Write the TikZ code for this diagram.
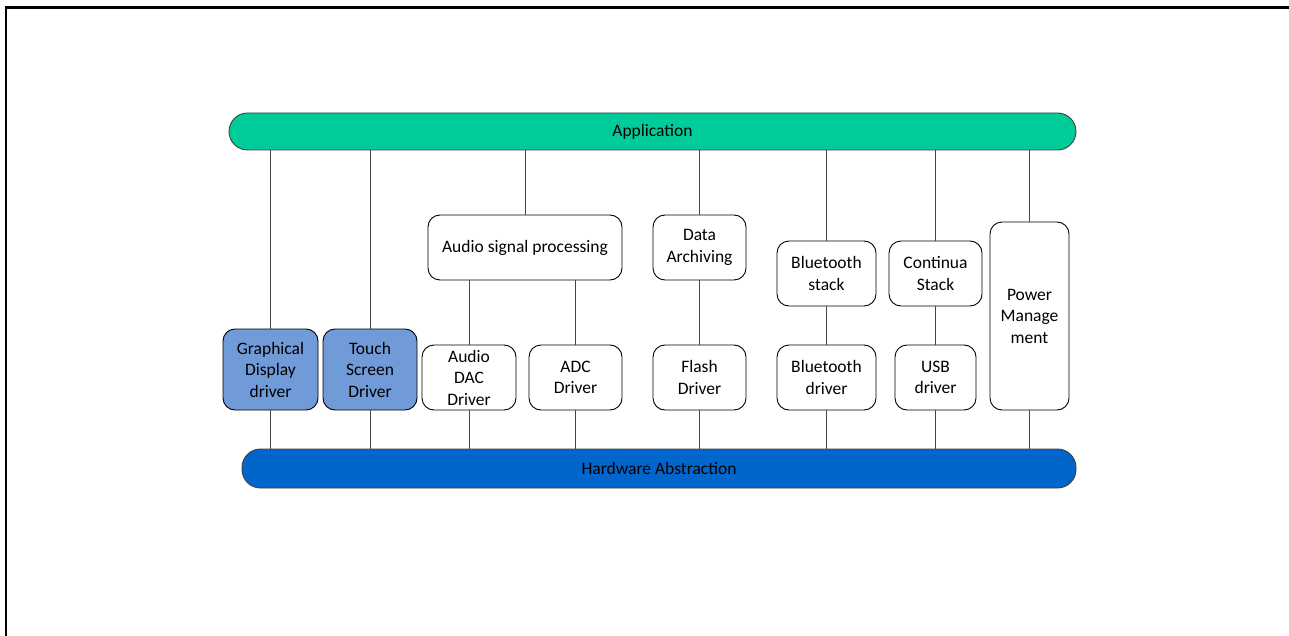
\documentclass[tikz,border=0pt]{standalone}
\usepackage{fontspec}
\setmainfont{Carlito}
\definecolor{appgreen}{RGB}{0,204,153}
\definecolor{hwblue}{RGB}{0,102,204}
\definecolor{drvblue}{RGB}{112,155,216}
\definecolor{linkgray}{RGB}{70,70,70}
\begin{document}
\begin{tikzpicture}[x=1pt,y=-1pt,
  every node/.style={font=\fontsize{17.5}{21.5}\selectfont, inner sep=0pt, align=center},
  bar/.style={draw=black!75, line width=0.9pt, rounded corners=18.5pt, minimum height=37pt},
  blk/.style={draw=black, line width=0.9pt, rounded corners=12pt, fill=white},
  drv/.style={blk, fill=drvblue},
  link/.style={draw=linkgray, line width=1pt}]
\useasboundingbox (0,0) rectangle (1289,636);
% page frame (top and left edges)
\draw[line width=2.2pt] (6,637) -- (6,7.5) -- (1290,7.5);

% layer bars
\node[bar, fill=appgreen, minimum width=847pt] (app) at (652.5,131.5) {Application};
\node[bar, fill=hwblue, minimum width=834pt, minimum height=39pt] (hw) at (659,468.5) {Hardware Abstraction};

% driver and service blocks
\node[drv, minimum width=95pt, minimum height=81pt] (gd) at (270.5,369.5) {Graphical\\Display\\driver};
\node[drv, minimum width=94pt, minimum height=81pt] (ts) at (370,369.5) {Touch\\Screen\\Driver};
\node[blk, minimum width=94pt, minimum height=65pt] (dac) at (469,377.5) {Audio\\DAC\\Driver};
\node[blk, minimum width=93pt, minimum height=65pt] (adc) at (575.5,377.5) {ADC\\Driver};
\node[blk, minimum width=194pt, minimum height=65pt] (asp) at (525,247.5) {Audio signal processing};
\node[blk, minimum width=93pt, minimum height=65pt] (arch) at (699.5,247.5) {Data\\Archiving};
\node[blk, minimum width=93pt, minimum height=65pt] (flash) at (699.5,377.5) {Flash\\Driver};
\node[blk, minimum width=99pt, minimum height=65pt] (bts) at (826.5,273.5) {Bluetooth\\stack};
\node[blk, minimum width=99pt, minimum height=65pt] (btd) at (826.5,377.5) {Bluetooth\\driver};
\node[blk, minimum width=93pt, minimum height=65pt] (cont) at (935.5,273.5) {Continua\\Stack};
\node[blk, minimum width=81pt, minimum height=65pt] (usb) at (935.5,377.5) {USB\\driver};
\node[blk, minimum width=79pt, minimum height=188pt] (pwr) at (1029.5,316) {Power\\Manage\\ment};

% connectors between layers and blocks
\path[link] (app.south -| gd.north) -- (gd.north);
\path[link] (gd.south) -- (hw.north -| gd.south);
\path[link] (app.south -| ts.north) -- (ts.north);
\path[link] (ts.south) -- (hw.north -| ts.south);
\path[link] (app.south -| asp.north) -- (asp.north);
\path[link] (asp.south -| dac.north) -- (dac.north);
\path[link] (asp.south -| adc.north) -- (adc.north);
\path[link] (dac.south) -- (hw.north -| dac.south);
\path[link] (adc.south) -- (hw.north -| adc.south);
\path[link] (app.south -| arch.north) -- (arch.north);
\path[link] (arch.south) -- (flash.north);
\path[link] (flash.south) -- (hw.north -| flash.south);
\path[link] (app.south -| bts.north) -- (bts.north);
\path[link] (bts.south) -- (btd.north);
\path[link] (btd.south) -- (hw.north -| btd.south);
\path[link] (app.south -| cont.north) -- (cont.north);
\path[link] (cont.south) -- (usb.north);
\path[link] (usb.south) -- (hw.north -| usb.south);
\path[link] (app.south -| pwr.north) -- (pwr.north);
\path[link] (pwr.south) -- (hw.north -| pwr.south);
\end{tikzpicture}
\end{document}
